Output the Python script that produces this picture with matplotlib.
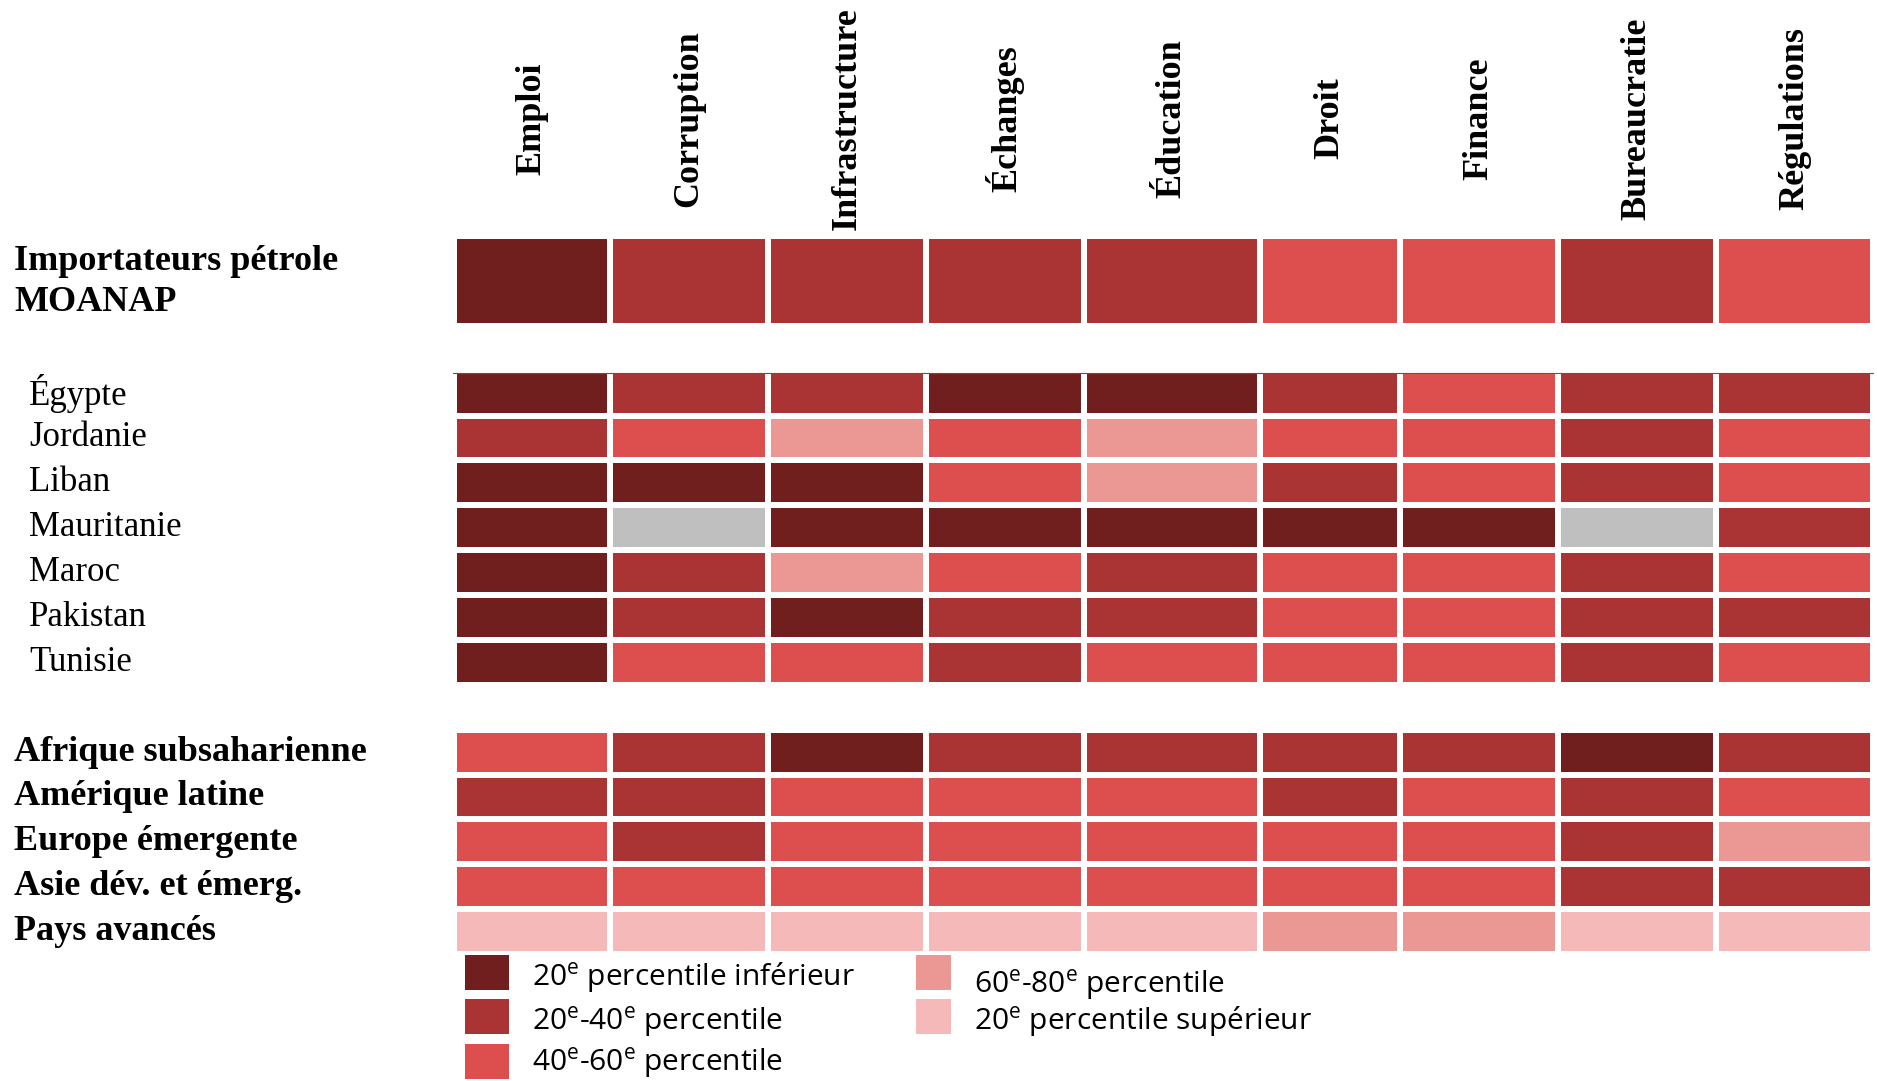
import numpy as np
import matplotlib
matplotlib.use("Agg")
import matplotlib.pyplot as plt
from matplotlib.colors import ListedColormap, BoundaryNorm
from matplotlib.patches import Rectangle
import matplotlib.transforms as mtransforms

# categories: 0 = n.d., 1 = 20e inf., 2 = 20-40, 3 = 40-60, 4 = 60-80, 5 = 20e sup.
columns = ["Emploi", "Corruption", "Infrastructure", "Échanges", "Éducation",
           "Droit", "Finance", "Bureaucratie", "Régulations"]

group_label = "Importateurs pétrole\nMOANAP"
group_vals = [1, 2, 2, 2, 2, 3, 3, 2, 3]

countries = ["Égypte", "Jordanie", "Liban", "Mauritanie", "Maroc", "Pakistan", "Tunisie"]
country_vals = [
    [1, 2, 2, 1, 1, 2, 3, 2, 2],
    [2, 3, 4, 3, 4, 3, 3, 2, 3],
    [1, 1, 1, 3, 4, 2, 3, 2, 3],
    [1, 0, 1, 1, 1, 1, 1, 0, 2],
    [1, 2, 4, 3, 2, 3, 3, 2, 3],
    [1, 2, 1, 2, 2, 3, 3, 2, 2],
    [1, 3, 3, 2, 3, 3, 3, 2, 3],
]

regions = ["Afrique subsaharienne", "Amérique latine", "Europe émergente",
           "Asie dév. et émerg.", "Pays avancés"]
region_vals = [
    [3, 2, 1, 2, 2, 2, 2, 1, 2],
    [2, 2, 3, 3, 3, 2, 3, 2, 3],
    [3, 2, 3, 3, 3, 3, 3, 2, 4],
    [3, 3, 3, 3, 3, 3, 3, 2, 2],
    [5, 5, 5, 5, 5, 4, 4, 5, 5],
]

legend_labels = [r"20$^{\mathrm{e}}$ percentile inférieur",
                 r"20$^{\mathrm{e}}$-40$^{\mathrm{e}}$ percentile",
                 r"40$^{\mathrm{e}}$-60$^{\mathrm{e}}$ percentile",
                 r"60$^{\mathrm{e}}$-80$^{\mathrm{e}}$ percentile",
                 r"20$^{\mathrm{e}}$ percentile supérieur"]

colors = ["#BFBFBF", "#701F1E", "#AA3333", "#DC4F4E", "#EB9794", "#F4B9B8"]

plt.rcParams["mathtext.fontset"] = "custom"
plt.rcParams["mathtext.rm"] = "Open Sans"

W, H = 1877, 1081
fig = plt.figure(figsize=(W / 100, H / 100), dpi=100)

def fx(x):
    return x / W

def fy(y):
    return 1 - y / H

# heatmap area
left, right, top, bottom = 454, 1873, 236, 954
ax = fig.add_axes([fx(left), fy(bottom), fx(right - left), (bottom - top) / H])

col_w = [156, 158, 158, 158, 176, 140, 158, 158, 157]
xedges = np.concatenate([[0], np.cumsum(col_w)])
# header (2 units), gap, 7 countries, gap, 5 regions
yedges = np.array([0, 2, 3, 4, 5, 6, 7, 8, 9, 10, 11, 12, 13, 14, 15, 16])

blank = [np.nan] * len(columns)
grid = np.array([group_vals, blank] + country_vals + [blank] + region_vals, dtype=float)
grid = np.ma.masked_invalid(grid)

cmap = ListedColormap(colors)
norm = BoundaryNorm(np.arange(-0.5, 6.5, 1), cmap.N)
ax.pcolormesh(xedges, yedges, grid, cmap=cmap, norm=norm,
              edgecolor="white", linewidth=3)
ax.set_xlim(xedges[0], xedges[-1])
ax.set_ylim(16, 0)
ax.axis("off")
ax.plot([xedges[0] - 1, xedges[-1]], [3.045, 3.045], color="#AA3333", lw=0.8, zorder=5,
        clip_on=False)

serif = "Liberation Serif"

# column headers
for i, name in enumerate(columns):
    cx = (xedges[i] + xedges[i + 1]) / 2
    ax.text(cx, -2.62, name, rotation=90, ha="center", va="center",
            fontsize=26, fontweight="bold", family=serif, clip_on=False)

trans = mtransforms.blended_transform_factory(fig.transFigure, ax.transData)

fig.text(fx(14), 1.03, group_label, transform=trans, va="center", ha="left",
         fontsize=26, fontweight="bold", family=serif, linespacing=1.32)
for j, name in enumerate(countries):
    fig.text(fx(29), 3.5 + j, name, transform=trans, va="center", ha="left",
             fontsize=25, family=serif)
for j, name in enumerate(regions):
    fig.text(fx(14), 11.5 + j, name, transform=trans, va="center", ha="left",
             fontsize=26, fontweight="bold", family=serif)

# legend
leg_boxes = [(465, 955, 44), (465, 999, 44), (465, 1044, 44), (916, 955, 35), (916, 999, 35)]
leg_text = [(532, 986), (532, 1030), (532, 1071), (974, 993), (974, 1030)]
for k, lab in enumerate(legend_labels):
    bx, by, bw = leg_boxes[k]
    fig.add_artist(Rectangle((fx(bx), fy(by + 35)), bw / W, 35 / H,
                             transform=fig.transFigure, color=colors[k + 1], lw=0))
    tx, ty = leg_text[k]
    fig.text(fx(tx), fy(ty), lab, va="baseline", ha="left", fontsize=21.5,
             family="Open Sans")

fig.savefig("out.png", dpi=100)
